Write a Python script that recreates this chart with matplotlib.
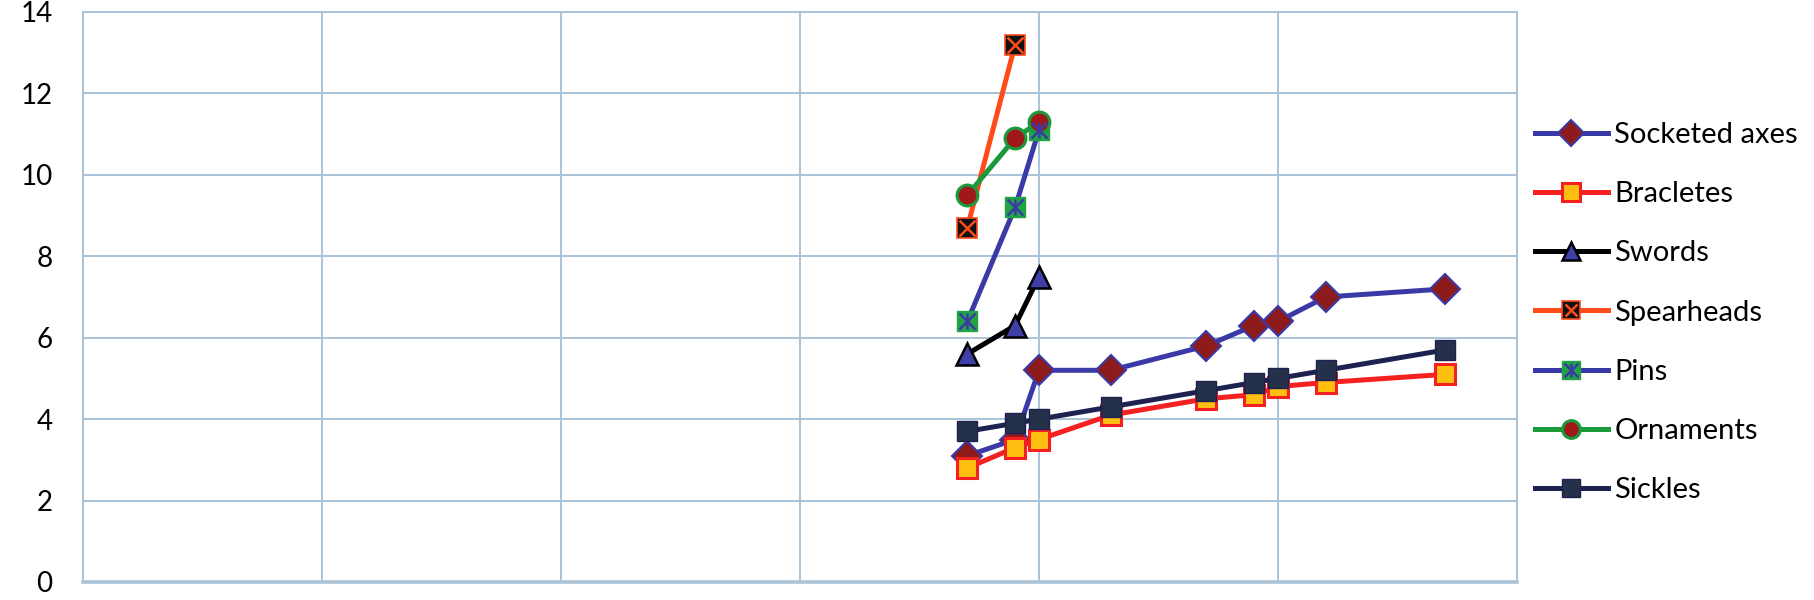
import matplotlib
matplotlib.use("Agg")
import matplotlib.pyplot as plt
from matplotlib.legend_handler import HandlerTuple

plt.rcParams['font.family'] = ['Lato', 'DejaVu Sans']

# Data (x positions in arbitrary units, grid every 1 unit)
x_axes = [3.7, 3.9, 4.0, 4.3, 4.7, 4.9, 5.0, 5.2, 5.7]
socketed_axes = [3.1, 3.5, 5.2, 5.2, 5.8, 6.3, 6.4, 7.0, 7.2]

x_bracletes = [3.7, 3.9, 4.0, 4.3, 4.7, 4.9, 5.0, 5.2, 5.7]
bracletes = [2.8, 3.3, 3.5, 4.1, 4.5, 4.6, 4.8, 4.9, 5.1]

x_swords = [3.7, 3.9, 4.0]
swords = [5.6, 6.3, 7.5]

x_spear = [3.7, 3.9]
spearheads = [8.7, 13.2]

x_pins = [3.7, 3.9, 4.0]
pins = [6.4, 9.2, 11.1]

x_orn = [3.7, 3.9, 4.0]
ornaments = [9.5, 10.9, 11.3]

x_sickles = [3.7, 3.9, 4.0, 4.3, 4.7, 4.9, 5.0, 5.2, 5.7]
sickles = [3.7, 3.9, 4.0, 4.3, 4.7, 4.9, 5.0, 5.2, 5.7]

labels = ["Socketed axes", "Bracletes", "Swords", "Spearheads", "Pins", "Ornaments", "Sickles"]
yticks = [0, 2, 4, 6, 8, 10, 12, 14]

fig = plt.figure(figsize=(18.15, 6.0), dpi=100)
ax = fig.add_axes([83/1815, 18/600, (1517-83)/1815, 570/600])

grid_c = '#A9C3D8'
lw = 3.6

blue = '#3A3AA6'
h = []
l1, = ax.plot(x_axes, socketed_axes, color=blue, lw=lw, marker='D', ms=15,
              mfc='#8E1B1B', mec=blue, mew=1.5, zorder=3)
h.append(l1)
l2, = ax.plot(x_bracletes, bracletes, color='#F52020', lw=lw, marker='s', ms=15,
              mfc='#FFBF10', mec='#F52020', mew=2.2, zorder=3)
h.append(l2)
l3, = ax.plot(x_swords, swords, color='#000000', lw=lw, marker='^', ms=16,
              mfc='#3F3FA8', mec='#000000', mew=1.8, zorder=3)
h.append(l3)
l4, = ax.plot(x_spear, spearheads, color='#FF4A1A', lw=lw, marker='s', ms=15,
              mfc='#111111', mec='#FF4A1A', mew=1.2, zorder=3)
l4b, = ax.plot(x_spear, spearheads, ls='none', marker='x', ms=11,
               mec='#FF4A1A', mew=1.8, zorder=3.1)
h.append((l4, l4b))
l5, = ax.plot(x_pins, pins, color=blue, lw=lw, marker='s', ms=15,
              mfc='#21A345', mec='#21A345', mew=1, zorder=3)
l5b, = ax.plot(x_pins, pins, ls='none', marker='x', ms=12,
               mec=blue, mew=1.8, zorder=3.1)
l5c, = ax.plot(x_pins, pins, ls='none', marker='|', ms=12,
               mec=blue, mew=1.8, zorder=3.1)
h.append((l5, l5b, l5c))
l6, = ax.plot(x_orn, ornaments, color='#1B9A3C', lw=lw, marker='o', ms=15,
              mfc='#A01818', mec='#1B9A3C', mew=2.2, zorder=3)
h.append(l6)
l7, = ax.plot(x_sickles, sickles, color='#1E2250', lw=lw, marker='s', ms=15,
              mfc='#25304A', mec='#1E2250', mew=1, zorder=3)
h.append(l7)

ax.set_xlim(0, 6)
ax.set_ylim(0, 14)
ax.set_xticks(range(0, 7))
ax.set_xticklabels([])
ax.set_yticks(yticks)
ax.set_yticklabels([str(v) for v in yticks], fontsize=20)
ax.tick_params(axis='both', length=0)
ax.tick_params(axis='y', pad=22)
ax.grid(True, color=grid_c, lw=1.4)
for s in ax.spines.values():
    s.set_color(grid_c)
    s.set_linewidth(1.4)
ax.spines['bottom'].set_linewidth(2.6)

leg = fig.legend(h, labels, loc='center left', bbox_to_anchor=(1535/1815, 0.479),
                 frameon=False, fontsize=21, handlelength=2.5, handletextpad=0.22,
                 labelspacing=1.14, numpoints=1, borderpad=0, borderaxespad=0,
                 markerscale=0.85,
                 handler_map={tuple: HandlerTuple(ndivide=1)})

fig.savefig('out.png', dpi=100)
